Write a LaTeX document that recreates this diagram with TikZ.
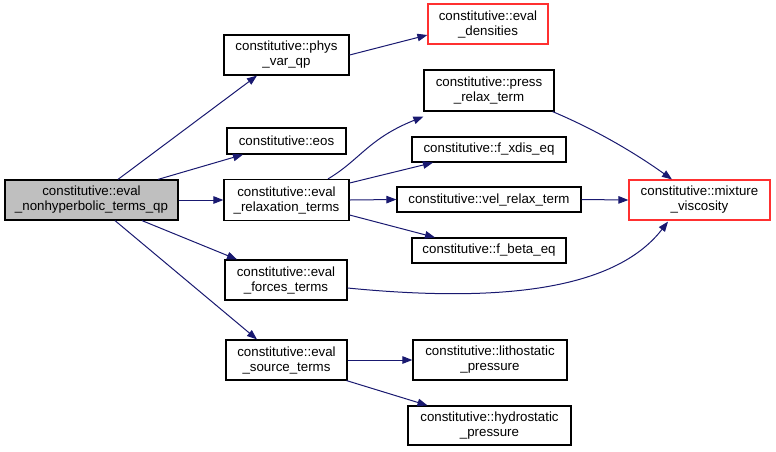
\documentclass[tikz,border=0pt]{standalone}
\usepackage{fontspec}
\setmainfont{Liberation Sans}
\usetikzlibrary{arrows.meta,calc}
\definecolor{edgecol}{HTML}{191970}
\definecolor{redcol}{HTML}{FF3030}
\definecolor{graycol}{HTML}{BFBFBF}
\begin{document}
\begin{tikzpicture}[x=1pt,y=-1pt,
  box/.style={draw=black,line width=1.2pt,fill=white,inner sep=0pt,align=center,
    font=\fontsize{13.3}{15}\selectfont},
  redbox/.style={box,draw=redcol},
  edge/.style={draw=edgecol,line width=1pt,-{Triangle[length=10pt,width=7.5pt]}}]
\useasboundingbox (0,0) rectangle (776,451);
\node[box,fill=graycol,minimum width=173pt,minimum height=40pt] (main) at (91.5,200) {constitutive::eval\\\_nonhyperbolic\_terms\_qp};
\node[box,minimum width=125pt,minimum height=40pt] (phys) at (286.5,55) {constitutive::phys\\\_var\_qp};
\node[redbox,minimum width=120pt,minimum height=40pt] (dens) at (488,24) {constitutive::eval\\\_densities};
\node[box,minimum width=119pt,minimum height=26pt] (eos) at (286.5,141) {constitutive::eos};
\node[box,minimum width=125pt,minimum height=41pt] (relax) at (286.5,200) {constitutive::eval\\\_relaxation\_terms};
\node[box,minimum width=122pt,minimum height=40pt] (forces) at (286,280) {constitutive::eval\\\_forces\_terms};
\node[box,minimum width=121pt,minimum height=40pt] (source) at (286.5,360) {constitutive::eval\\\_source\_terms};
\node[box,minimum width=130pt,minimum height=41pt] (press) at (489,90.5) {constitutive::press\\\_relax\_term};
\node[box,minimum width=154pt,minimum height=25pt] (xdis) at (489,149.5) {constitutive::f\_xdis\_eq};
\node[box,minimum width=184pt,minimum height=25pt] (vel) at (489,199.5) {constitutive::vel\_relax\_term};
\node[box,minimum width=154pt,minimum height=25pt] (beta) at (489,250.5) {constitutive::f\_beta\_eq};
\node[redbox,minimum width=141pt,minimum height=40pt] (mix) at (699.5,200) {constitutive::mixture\\\_viscosity};
\node[box,minimum width=154pt,minimum height=40pt] (litho) at (490,360) {constitutive::lithostatic\\\_pressure};
\node[box,minimum width=163pt,minimum height=39pt] (hydro) at (489.5,425.5) {constitutive::hydrostatic\\\_pressure};

\draw[edge] ([xshift=26.5pt]main.north) -- ([xshift=-29.5pt]phys.south);
\draw[edge] ([xshift=66.5pt]main.north) -- ([xshift=-43.5pt]eos.south);
\draw[edge] (main.east) -- (relax.west);
\draw[edge] ([xshift=50.5pt]main.south) -- ([xshift=-49pt]forces.north);
\draw[edge] ([xshift=23.5pt]main.south) -- ([xshift=-29.5pt]source.north);
\draw[edge] (phys.east) -- ([yshift=-11pt]dens.west);
\draw[edge] ([xshift=41.5pt]relax.north) .. controls +(32,-19) and +(-55,22) .. ([yshift=-5pt]press.south west);
\draw[edge] ([yshift=17pt]relax.east) -- ([xshift=-56pt]xdis.south);
\draw[edge] (relax.east) -- (vel.west);
\draw[edge] ([yshift=-15pt]relax.east) -- ([xshift=-54pt]beta.north);
\draw[edge] ([xshift=-2pt]press.south east) .. controls +(38,16) and +(-42,-30) .. ([xshift=-27.5pt]mix.north);
\draw[edge] (vel.east) -- (mix.west);
\draw[edge] ([yshift=-8pt]forces.east) .. controls +(173,17) and +(-48,62) .. ([xshift=-31.5pt,yshift=-1pt]mix.south);
\draw[edge] (source.east) -- (litho.west);
\draw[edge] ([xshift=-1pt]source.south east) -- ([xshift=-62pt]hydro.north);
\end{tikzpicture}
\end{document}
